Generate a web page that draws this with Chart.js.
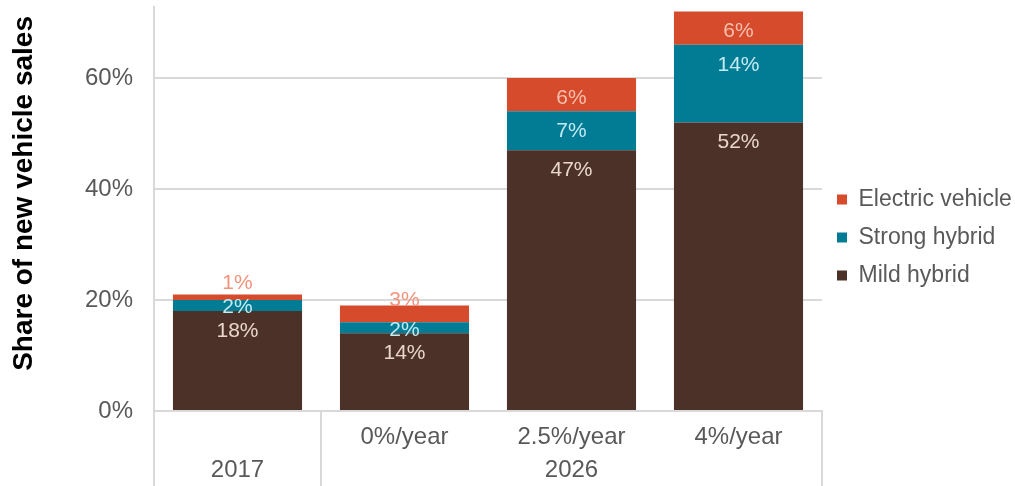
<!DOCTYPE html>
<html>
<head>
<meta charset="utf-8">
<script src="https://cdn.jsdelivr.net/npm/chart.js@4"></script>
<style>
  html, body { margin: 0; padding: 0; background: #fff; }
  #wrap { width: 1015px; height: 486px; }
</style>
</head>
<body>
<div id="wrap"><canvas id="salesChart"></canvas></div>
<script>
// scenario under each bar, and the year row it belongs to
const scenarios = ['', '0%/year', '2.5%/year', '4%/year'];
const years = ['2017', '2026'];
const yearOf = [0, 1, 1, 1];

// share of new vehicle sales, %
const mildHybrid = [18, 14, 47, 52];
const strongHybrid = [2, 2, 7, 14];
const electric = [1, 3, 6, 6];

const yTicks = [0, 20, 40, 60];

const gridGrey = '#d9d9d9';
const textGrey = '#595959';
const fontFamily = "'Liberation Sans', Arial, sans-serif";
Chart.defaults.font.family = fontFamily;

// keep the legend column a fixed width so the plot ends at the same place
const legendWidth = {
  id: 'legendWidth',
  beforeLayout(chart) {
    const legend = chart.legend;
    if (!legend || legend._fixedFit) return;
    const fit = legend.fit;
    legend.fit = function () {
      fit.call(this);
      this.width = 193;
    };
    legend._fixedFit = true;
  }
};

// value labels on the bar segments
const segmentLabels = {
  id: 'segmentLabels',
  afterDatasetsDraw(chart) {
    const ctx = chart.ctx;
    const last = chart.data.datasets.length - 1;
    ctx.save();
    ctx.font = '21px ' + fontFamily;
    ctx.textAlign = 'center';
    ctx.textBaseline = 'middle';
    chart.data.datasets.forEach((ds, di) => {
      const meta = chart.getDatasetMeta(di);
      meta.data.forEach((bar, i) => {
        const top = Math.min(bar.y, bar.base);
        const bottom = Math.max(bar.y, bar.base);
        const h = bottom - top;
        const mid = (top + bottom) / 2;
        let y, color = ds.labelColor;
        if (h >= 30) {
          y = top + 20;
        } else if (di === last) {
          y = mid - 14;
          color = ds.outsideColor;
        } else {
          y = mid + 2;
        }
        ctx.fillStyle = color;
        ctx.fillText(ds.data[i] + '%', bar.x, y);
      });
    });
    ctx.restore();
  }
};

// second row of the x axis: year names and the dividers between them
const yearRow = {
  id: 'yearRow',
  afterDraw(chart) {
    const ctx = chart.ctx;
    const x = chart.scales.x;
    const area = chart.chartArea;
    const step = x.getPixelForValue(1) - x.getPixelForValue(0);
    ctx.save();
    ctx.strokeStyle = gridGrey;
    ctx.lineWidth = 2;
    ctx.fillStyle = textGrey;
    ctx.font = '24px ' + fontFamily;
    ctx.textAlign = 'center';
    ctx.textBaseline = 'middle';
    years.forEach((yr, g) => {
      const idx = [];
      yearOf.forEach((v, i) => { if (v === g) idx.push(i); });
      const left = x.getPixelForValue(idx[0]) - step / 2;
      const right = x.getPixelForValue(idx[idx.length - 1]) + step / 2;
      ctx.beginPath();
      ctx.moveTo(left, area.bottom);
      ctx.lineTo(left, chart.height);
      if (g === years.length - 1) {
        ctx.moveTo(right, area.bottom);
        ctx.lineTo(right, chart.height);
      }
      ctx.stroke();
      ctx.fillText(yr, (left + right) / 2, area.bottom + 59);
    });
    ctx.restore();
  }
};

new Chart(document.getElementById('salesChart'), {
  type: 'bar',
  data: {
    labels: scenarios,
    datasets: [
      { label: 'Mild hybrid', data: mildHybrid, backgroundColor: '#4b3128',
        labelColor: '#ead6cd' },
      { label: 'Strong hybrid', data: strongHybrid, backgroundColor: '#027b94',
        labelColor: '#c2ebf3' },
      { label: 'Electric vehicle', data: electric, backgroundColor: '#d64b2c',
        labelColor: '#f7bfae', outsideColor: '#f2937c' }
    ]
  },
  options: {
    responsive: true,
    maintainAspectRatio: false,
    animation: false,
    layout: { padding: { top: 7, right: 0, bottom: 0, left: 0 } },
    datasets: {
      bar: { categoryPercentage: 1, barPercentage: 0.773 }
    },
    plugins: {
      tooltip: { enabled: false },
      legend: {
        position: 'right',
        align: 'start',
        reverse: true,
        // empty title only used as a spacer above the entries
        title: { display: true, text: ' ', font: { size: 10 }, padding: { top: 154, bottom: 0 } },
        labels: {
          boxWidth: 10,
          boxHeight: 10,
          padding: 15,
          color: textGrey,
          font: { size: 23 }
        }
      }
    },
    scales: {
      x: {
        stacked: true,
        grid: { display: false, drawTicks: false },
        border: { display: true, color: gridGrey, width: 2 },
        ticks: { color: textGrey, font: { size: 24 }, padding: 12, maxRotation: 0 },
        afterFit(scale) {
          scale.height = 75;
          scale.paddingLeft = 0;
          scale.paddingRight = 0;
        }
      },
      y: {
        stacked: true,
        min: 0,
        max: 72.8,
        afterBuildTicks(scale) { scale.ticks = yTicks.map(v => ({ value: v })); },
        grid: { color: gridGrey, lineWidth: 2, drawTicks: false },
        border: { display: true, color: gridGrey, width: 2 },
        ticks: {
          color: textGrey,
          font: { size: 24 },
          padding: 21,
          callback: v => v + '%'
        },
        title: {
          display: true,
          text: '    Share of new vehicle sales',
          color: '#000',
          font: { size: 28, weight: 'bold' },
          padding: { top: 7, bottom: 0 }
        },
        afterFit(scale) {
          scale.width = 154;
          scale.paddingTop = 0;
          scale.paddingBottom = 0;
        }
      }
    }
  },
  plugins: [legendWidth, segmentLabels, yearRow]
});
</script>
</body>
</html>
